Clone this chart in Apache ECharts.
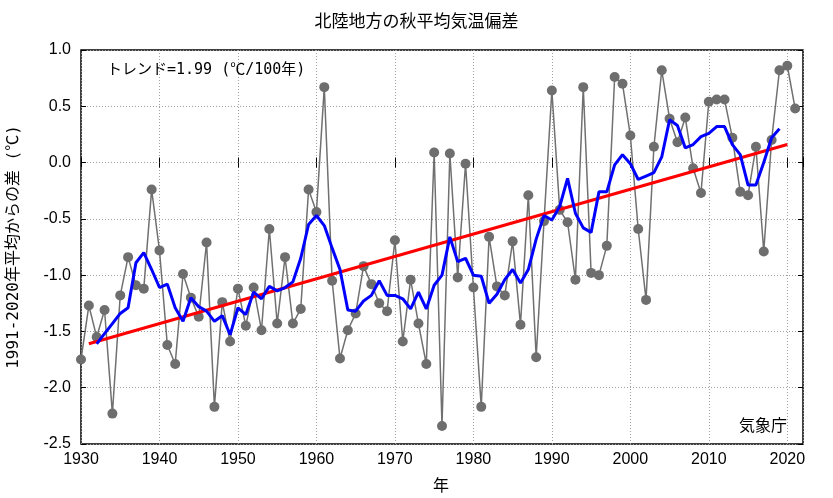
<!DOCTYPE html>
<html>
<head>
<meta charset="utf-8">
<script src="https://cdn.jsdelivr.net/npm/echarts@6/dist/echarts.min.js"></script>
<style>
  html, body { margin: 0; padding: 0; background: #fff; }
  #chart { width: 833px; height: 498px; }
</style>
</head>
<body>
<div id="chart"></div>
<script>
// 北陸地方 秋の平均気温偏差 (1991-2020年平均からの差)
const startYear = 1930;
const anomaly = [
  -1.75, -1.27, -1.55, -1.31, -2.23, -1.18, -0.84, -1.09, -1.12, -0.24, // 1930-
  -0.78, -1.62, -1.79, -0.99, -1.20, -1.37, -0.71, -2.17, -1.24, -1.59, // 1940-
  -1.12, -1.45, -1.11, -1.49, -0.59, -1.43, -0.84, -1.43, -1.30, -0.24, // 1950-
  -0.44,  0.67, -1.05, -1.74, -1.49, -1.34, -0.92, -1.08, -1.25, -1.32, // 1960-
  -0.69, -1.59, -1.04, -1.43, -1.79,  0.09, -2.34,  0.08, -1.02, -0.01, // 1970-
  -1.11, -2.17, -0.66, -1.10, -1.18, -0.70, -1.44, -0.29, -1.73, -0.52, // 1980-
   0.64, -0.42, -0.53, -1.04,  0.67, -0.98, -1.00, -0.74,  0.76,  0.70, // 1990-
   0.24, -0.59, -1.22,  0.14,  0.82,  0.39,  0.18,  0.40, -0.05, -0.27, // 2000-
   0.54,  0.56,  0.56,  0.22, -0.26, -0.29,  0.14, -0.79,  0.20,  0.82, // 2010-
   0.86,  0.48                                                           // 2020-
];

// 5年移動平均 (1932-2019)
const runStartYear = 1932;
const runningMean = [
  -1.61, -1.52, -1.43, -1.34, -1.29, -0.89, -0.80, -0.95,               // 1932-
  -1.11, -1.08, -1.29, -1.41, -1.20, -1.28, -1.32, -1.41, -1.36, -1.53, // 1940-
  -1.29, -1.35, -1.15, -1.21, -1.10, -1.14, -1.11, -1.06, -0.85, -0.55, // 1950-
  -0.47, -0.56, -0.76, -0.95, -1.31, -1.32, -1.23, -1.18, -1.05, -1.18, // 1960-
  -1.18, -1.21, -1.30, -1.15, -1.30, -1.09, -1.00, -0.66, -0.88, -0.85, // 1970-
  -1.00, -1.01, -1.25, -1.17, -1.04, -0.95, -1.07, -0.95, -0.68, -0.47, // 1980-
  -0.51, -0.39, -0.14, -0.45, -0.58, -0.62, -0.26, -0.26, -0.02,  0.07, // 1990-
  -0.01, -0.15, -0.12, -0.09,  0.05,  0.38,  0.33,  0.13,  0.16,  0.23, // 2000-
   0.26,  0.32,  0.32,  0.16,  0.07, -0.20, -0.20,  0.00,  0.22,  0.30  // 2010-
];

// 長期変化傾向 (直線)
const trendYears = [1931, 2020];
const trendValues = [-1.61, 0.16];

const xTicks = [1930, 1940, 1950, 1960, 1970, 1980, 1990, 2000, 2010, 2020];

const tickFont = 'Liberation Sans, Arial, sans-serif';
const jpFont = '"Noto Sans CJK JP", sans-serif';
const monoJp = '"DejaVu Sans Mono", "Noto Sans CJK JP", monospace';

const chart = echarts.init(document.getElementById('chart'));

const gridLine = { show: true, lineStyle: { color: '#a0a0a0', type: [1, 2], width: 1 } };

chart.setOption({
  animation: false,
  backgroundColor: '#fff',
  grid: {
    left: 81, right: 30, top: 50, bottom: 54,
    show: true, borderColor: '#000', borderWidth: 1.5, backgroundColor: 'transparent'
  },
  xAxis: [{
    type: 'value', min: 1930, max: 2022, interval: 10,
    axisLine: { show: false },
    axisTick: { show: true, inside: true, length: 5, lineStyle: { color: '#000' } },
    axisLabel: {
      fontFamily: tickFont, fontSize: 16, color: '#000', margin: 8,
      formatter: v => (xTicks.includes(v) ? String(v) : '')
    },
    splitLine: gridLine
  }, {
    type: 'value', min: 1930, max: 2022, interval: 10, position: 'top',
    axisLine: { show: false },
    axisTick: { show: true, inside: true, length: 5, lineStyle: { color: '#000' } },
    axisLabel: { show: false },
    splitLine: { show: false }
  }],
  yAxis: [{
    type: 'value', min: -2.5, max: 1.0, interval: 0.5,
    axisLine: { show: false },
    axisTick: { show: true, inside: true, length: 5, lineStyle: { color: '#000' } },
    axisLabel: {
      fontFamily: tickFont, fontSize: 16, color: '#000', margin: 10,
      formatter: v => v.toFixed(1)
    },
    splitLine: gridLine
  }, {
    type: 'value', min: -2.5, max: 1.0, interval: 0.5, position: 'right',
    axisLine: { show: false },
    axisTick: { show: true, inside: true, length: 5, lineStyle: { color: '#000' } },
    axisLabel: { show: false },
    splitLine: { show: false }
  }],
  series: [
    {
      type: 'line',
      data: anomaly.map((v, i) => [startYear + i, v]),
      symbol: 'circle', symbolSize: 10,
      itemStyle: { color: '#6e6e6e' },
      lineStyle: { color: '#707070', width: 1.5 },
      z: 2
    },
    {
      type: 'line',
      data: trendYears.map((y, i) => [y, trendValues[i]]),
      symbol: 'none',
      lineStyle: { color: '#ff0000', width: 3 },
      z: 3
    },
    {
      type: 'line',
      data: runningMean.map((v, i) => [runStartYear + i, v]),
      symbol: 'none',
      lineStyle: { color: '#0000ff', width: 3 },
      z: 4
    }
  ],
  graphic: [
    {
      type: 'text', left: 'center', top: 12,
      style: { text: '北陸地方の秋平均気温偏差', font: '17px ' + jpFont, fill: '#000' }
    },
    {
      type: 'text', x: 107, y: 70,
      style: { text: 'トレンド=1.99 (℃/100年)', font: '15px ' + monoJp, fill: '#000',
               textAlign: 'left', textVerticalAlign: 'middle' }
    },
    {
      type: 'text', x: 787, y: 425,
      style: { text: '気象庁', font: '16px ' + jpFont, fill: '#000',
               textAlign: 'right', textVerticalAlign: 'middle' }
    },
    {
      type: 'text', x: 441, y: 485,
      style: { text: '年', font: '16px ' + jpFont, fill: '#000',
               textAlign: 'center', textVerticalAlign: 'middle' }
    },
    {
      type: 'text', x: 14, y: 247, rotation: Math.PI / 2,
      style: { text: '1991-2020年平均からの差 (℃)', font: '16px ' + monoJp, fill: '#000',
               textAlign: 'center', textVerticalAlign: 'middle' }
    }
  ]
});
</script>
</body>
</html>
